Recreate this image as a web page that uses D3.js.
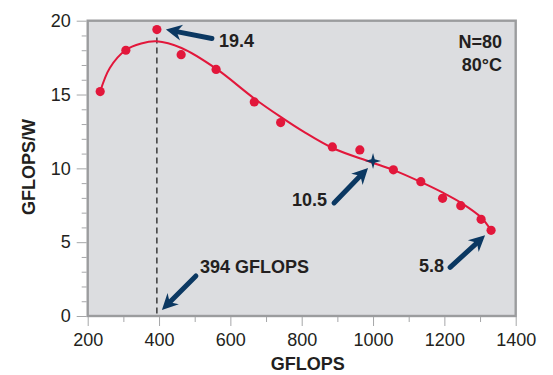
<!DOCTYPE html>
<html>
<head>
<meta charset="utf-8">
<script src="https://cdn.jsdelivr.net/npm/d3@7"></script>
<style>
  html, body { margin: 0; padding: 0; background: #fff; }
  svg { display: block; font-family: "Liberation Sans", Arial, Helvetica, sans-serif; }
</style>
</head>
<body>
<svg id="chart" width="553" height="375"></svg>
<script>
// Measured efficiency at each operating point (GFLOPS vs GFLOPS/W)
const pointGflops = [235, 307, 394, 462, 560, 667, 741, 886, 963, 1057, 1134, 1195, 1246, 1303, 1331];
const pointEff    = [15.2, 18.0, 19.4, 17.7, 16.7, 14.5, 13.1, 11.45, 11.25, 9.9, 9.1, 7.97, 7.47, 6.55, 5.8];

// Fitted trend curve
const fitGflops = [235, 262, 306, 350, 393, 463, 560, 666, 740, 804, 888, 991, 1056, 1132, 1196, 1248, 1302, 1331];
const fitEff    = [15.2, 16.8, 18.0, 18.45, 18.6, 18.15, 16.75, 14.75, 13.5, 12.5, 11.36, 10.45, 9.9, 9.1, 8.35, 7.65, 6.7, 5.8];

// Highlighted operating point
const starPoint = [1000, 10.5];

// Axis ticks
const xMajorTicks = [200, 400, 600, 800, 1000, 1200, 1400];
const xMinorTicks = [300, 500, 700, 900, 1100, 1300];
const yMajorTicks = [0, 5, 10, 15, 20];
const yMinorTicks = [1, 2, 3, 4, 6, 7, 8, 9, 11, 12, 13, 14, 16, 17, 18, 19];

// Conditions
const conditionLines = ["N=80", "80°C"];

const RED = "#e2173b";
const NAVY = "#0b3862";
const TEXT = "#231f20";

const svg = d3.select("#chart");
const plot = { left: 87.7, right: 515.7, top: 20.7, bottom: 316 };

const x = d3.scaleLinear().domain([200, 1400]).range([plot.left, plot.right]);
const y = d3.scaleLinear().domain([0, 20]).range([plot.bottom, plot.top]);

// Plot panel
svg.append("rect")
  .attr("x", plot.left).attr("y", plot.top)
  .attr("width", plot.right - plot.left).attr("height", plot.bottom - plot.top)
  .attr("fill", "#dcdde0")
  .attr("stroke", "#9b9c9e").attr("stroke-width", 2.4);

// Axes
function styleAxis(g) {
  g.select(".domain").remove();
  g.selectAll(".tick line").attr("stroke", "#a6a7a9").attr("stroke-width", 1);
  g.selectAll(".tick text").attr("fill", TEXT).attr("font-size", 18);
}

svg.append("g").attr("transform", `translate(0,${plot.bottom + 1})`)
  .call(d3.axisBottom(x).tickValues(xMinorTicks).tickSize(5).tickFormat(""))
  .call(styleAxis);
svg.append("g").attr("transform", `translate(0,${plot.bottom + 1})`)
  .call(d3.axisBottom(x).tickValues(xMajorTicks).tickSize(9).tickPadding(7).tickFormat(d3.format("d")))
  .call(styleAxis);

svg.append("g").attr("transform", `translate(${plot.left - 1},0)`)
  .call(d3.axisLeft(y).tickValues(yMinorTicks).tickSize(5).tickFormat(""))
  .call(styleAxis);
svg.append("g").attr("transform", `translate(${plot.left - 1},0)`)
  .call(d3.axisLeft(y).tickValues(yMajorTicks).tickSize(10).tickPadding(6).tickFormat(d3.format("d")))
  .call(styleAxis);

// Axis titles
svg.append("text")
  .attr("x", (plot.left + plot.right) / 2 + 6).attr("y", 370)
  .attr("text-anchor", "middle").attr("font-size", 18).attr("font-weight", "bold")
  .attr("fill", TEXT).text("GFLOPS");
svg.append("text")
  .attr("transform", "translate(35,167) rotate(-90)")
  .attr("text-anchor", "middle").attr("font-size", 18).attr("font-weight", "bold")
  .attr("fill", TEXT).text("GFLOPS/W");

// Peak marker: dashed line from the peak down to the axis
const peakIdx = pointEff.indexOf(d3.max(pointEff));
svg.append("line")
  .attr("x1", x(pointGflops[peakIdx])).attr("x2", x(pointGflops[peakIdx]))
  .attr("y1", y(pointEff[peakIdx]) + 8).attr("y2", y(0))
  .attr("stroke", "#111").attr("stroke-width", 1.2).attr("stroke-dasharray", "6,4");

// Fitted curve
const fitData = fitGflops.map((g, i) => [g, fitEff[i]]);
svg.append("path")
  .datum(fitData)
  .attr("fill", "none").attr("stroke", RED).attr("stroke-width", 2)
  .attr("d", d3.line().x(d => x(d[0])).y(d => y(d[1])).curve(d3.curveCatmullRom.alpha(0.5)));

// Measured points
svg.append("g").selectAll("circle")
  .data(pointGflops.map((g, i) => [g, pointEff[i]]))
  .join("circle")
  .attr("cx", d => x(d[0])).attr("cy", d => y(d[1])).attr("r", 4.6)
  .attr("fill", RED);

// Four-point star on the highlighted operating point
function starPath(cx, cy, R, r) {
  const pts = [];
  for (let k = 0; k < 8; k++) {
    const a = -Math.PI / 2 + k * Math.PI / 4;
    const rad = k % 2 === 0 ? R : r;
    pts.push([cx + rad * Math.cos(a), cy + rad * Math.sin(a)]);
  }
  return "M" + pts.map(p => p.join(",")).join("L") + "Z";
}
svg.append("path")
  .attr("d", starPath(x(starPoint[0]), y(starPoint[1]), 8, 2.4))
  .attr("fill", NAVY);

// Annotation arrows: tip/tail offsets in pixels from a data anchor
function arrow(anchor, tipOff, tailOff) {
  const ax = x(anchor[0]), ay = y(anchor[1]);
  const T = [ax + tipOff[0], ay + tipOff[1]];
  const S = [ax + tailOff[0], ay + tailOff[1]];
  const dx = T[0] - S[0], dy = T[1] - S[1];
  const len = Math.hypot(dx, dy);
  const u = [dx / len, dy / len], n = [-u[1], u[0]];
  const L = 16, W = 8, notch = 5;
  const back = [T[0] - u[0] * L, T[1] - u[1] * L];
  const nb = [T[0] - u[0] * (L - notch), T[1] - u[1] * (L - notch)];
  const g = svg.append("g");
  g.append("line")
    .attr("x1", S[0]).attr("y1", S[1]).attr("x2", nb[0]).attr("y2", nb[1])
    .attr("stroke", NAVY).attr("stroke-width", 5).attr("stroke-linecap", "round");
  g.append("path")
    .attr("d", `M${T[0]},${T[1]}L${back[0] + n[0] * W},${back[1] + n[1] * W}L${nb[0]},${nb[1]}L${back[0] - n[0] * W},${back[1] - n[1] * W}Z`)
    .attr("fill", NAVY);
}

function label(anchor, off, txt, anchorSide) {
  svg.append("text")
    .attr("x", x(anchor[0]) + off[0]).attr("y", y(anchor[1]) + off[1])
    .attr("text-anchor", anchorSide)
    .attr("font-size", 18).attr("font-weight", "bold").attr("fill", TEXT)
    .text(txt);
}

const peak = [pointGflops[peakIdx], pointEff[peakIdx]];
const last = [pointGflops[pointGflops.length - 1], pointEff[pointEff.length - 1]];

arrow(peak, [9, 0], [55, 9]);
label(peak, [62, 17], d3.format(".1f")(peak[1]), "start");

arrow([peak[0], 0], [5, -6], [39, -40]);
label([peak[0], 0], [43, -43], `${peak[0]} GFLOPS`, "start");

arrow(starPoint, [-5, 7], [-39, 42]);
label(starPoint, [-46, 45], d3.format(".1f")(starPoint[1]), "end");

arrow(last, [-6, 5], [-41, 37]);
label(last, [-47, 42], d3.format(".1f")(last[1]), "end");

// Test conditions, top right
svg.append("g").selectAll("text")
  .data(conditionLines)
  .join("text")
  .attr("x", 502).attr("y", (d, i) => 48 + i * 22.5)
  .attr("text-anchor", "end").attr("font-size", 18).attr("font-weight", "bold")
  .attr("fill", TEXT).text(d => d);
</script>
</body>
</html>
